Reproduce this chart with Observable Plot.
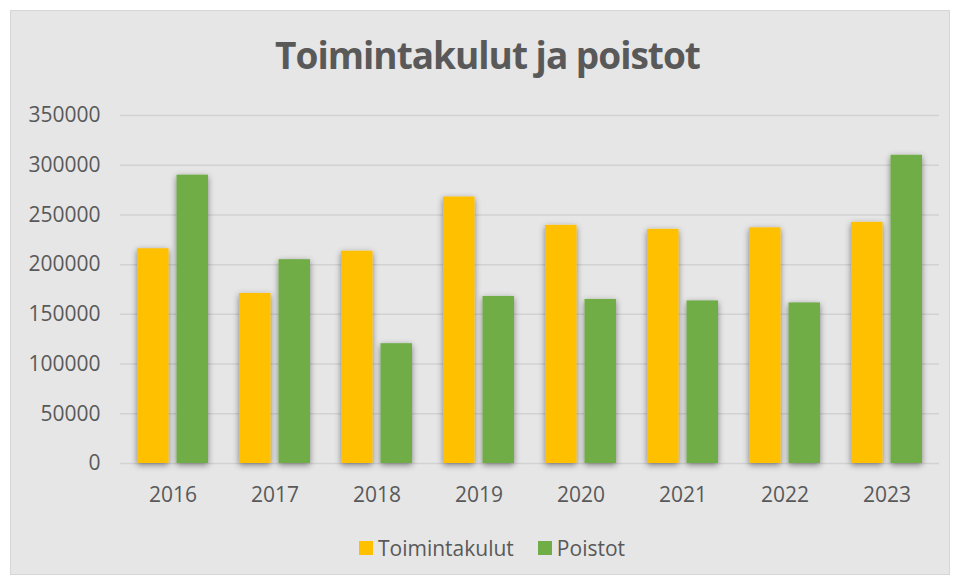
<!DOCTYPE html>
<html><head><meta charset="utf-8">
<script src="https://cdn.jsdelivr.net/npm/d3@7"></script>
<script src="https://cdn.jsdelivr.net/npm/@observablehq/plot@0.6"></script>
<style>
body{margin:0;background:#fff;font-family:"Open Sans",sans-serif;}
#bg{position:absolute;left:10px;top:10px;width:938px;height:563px;background:#e6e6e6;border:1px solid #d6d6d6;}
#title{position:absolute;left:10px;width:955px;top:35px;text-align:center;font-weight:700;font-size:37px;line-height:40px;color:#595959;letter-spacing:-1px;}
#chart{position:absolute;left:10px;top:95px;}
#legend{position:absolute;left:359px;top:534px;display:flex;align-items:center;font-size:21px;color:#595959;line-height:28px;}
#legend span.sw{display:inline-block;width:14px;height:14px;margin-right:5px;}
#legend span.item{display:flex;align-items:center;margin-right:24px;}
</style></head><body>
<div id="bg"></div>
<div id="title">Toimintakulut ja poistot</div>
<div id="chart"></div>
<div id="legend"></div>
<script>
const years = ["2016","2017","2018","2019","2020","2021","2022","2023"];
const seriesNames = ["Toimintakulut","Poistot"];
const toimintakulut = [216000,171000,213500,268000,239500,235500,237000,242500];
const poistot = [290000,205000,120500,168000,165000,163500,161500,310000];
const yTicks = [0,50000,100000,150000,200000,250000,300000,350000];
const colors = ["#FFC000","#70AD47"];

const dataT = years.map((y,i)=>({year:y, series:seriesNames[0], value:toimintakulut[i]}));
const dataP = years.map((y,i)=>({year:y, series:seriesNames[1], value:poistot[i]}));

const svg = Plot.plot({
  width: 940,
  height: 420,
  marginLeft: 110,
  marginRight: 11,
  marginTop: 20,
  marginBottom: 52,
  style: {background:"transparent", fontFamily:"Open Sans, sans-serif", fontSize:"21px", color:"#595959"},
  x: {domain: years, paddingInner: 0.3, paddingOuter: 0.15, label: null},
  y: {domain: [0,350000], label: null},
  color: {domain: seriesNames, range: colors},
  marks: [
    Plot.ruleY(yTicks, {stroke:"#d2d2d2", strokeWidth:1.5}),
    Plot.axisY({ticks: yTicks, tickSize: 0, tickPadding: 20, tickFormat: d => String(d), fill:"#595959", fontSize: 21}),
    Plot.axisX({tickSize: 0, tickPadding: 24, fill:"#595959", fontSize: 21}),
    Plot.barY(dataT, {x:"year", y:"value", fill:"series", insetRight: 39.5}),
    Plot.barY(dataP, {x:"year", y:"value", fill:"series", insetLeft: 39.5})
  ]
});

// drop shadow styling
const ns = "http://www.w3.org/2000/svg";
const defs = document.createElementNS(ns, "defs");
defs.innerHTML = '<filter id="sh" x="-40%" y="-10%" width="180%" height="125%"><feDropShadow dx="0" dy="2" stdDeviation="3" flood-color="#000" flood-opacity="0.45"/></filter>';
svg.insertBefore(defs, svg.firstChild);
svg.querySelectorAll('g[aria-label="bar"]').forEach(g => g.setAttribute("filter","url(#sh)"));
document.getElementById("chart").appendChild(svg);

const legend = document.getElementById("legend");
seriesNames.forEach((s,i)=>{
  const it = document.createElement("span"); it.className="item";
  const sw = document.createElement("span"); sw.className="sw"; sw.style.background = colors[i];
  it.appendChild(sw); it.appendChild(document.createTextNode(s));
  legend.appendChild(it);
});
</script>
</body></html>
